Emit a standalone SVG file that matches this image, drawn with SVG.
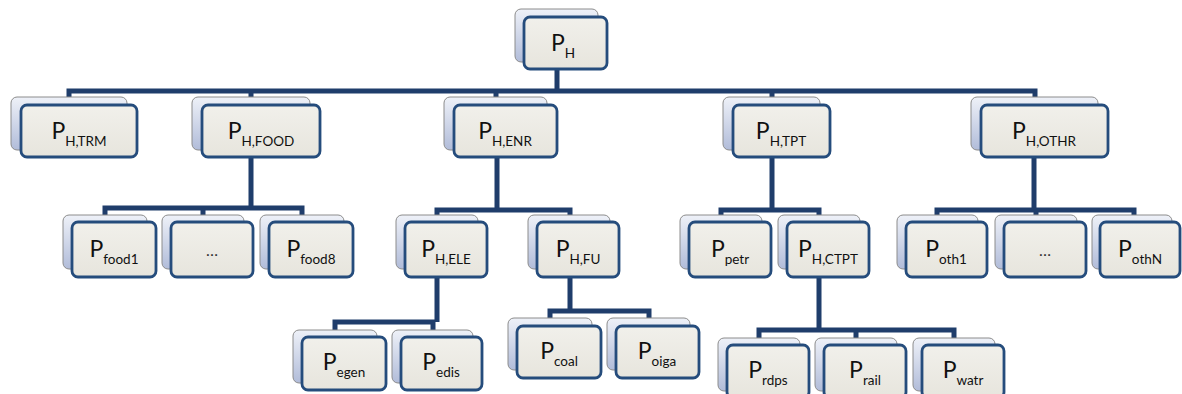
<svg xmlns="http://www.w3.org/2000/svg" width="1182" height="394" viewBox="0 0 1182 394">
  <defs>
    <linearGradient id="backFill" x1="0" y1="0" x2="0" y2="1">
      <stop offset="0" stop-color="#eef1f8"/>
      <stop offset="1" stop-color="#b1bcd9"/>
    </linearGradient>
    <linearGradient id="frontFill" x1="0" y1="0" x2="0" y2="1">
      <stop offset="0" stop-color="#f1f0eb"/>
      <stop offset="1" stop-color="#e7e5dd"/>
    </linearGradient>
  </defs>
  <style>
    .back { fill: url(#backFill); stroke: #8c8c8c; stroke-width: 1; }
    .front { fill: url(#frontFill); stroke: #254c7c; stroke-width: 2.8; }
    .conn { fill: none; stroke: #1f3d6b; stroke-width: 5; stroke-linejoin: miter; stroke-linecap: butt; }
    .t { font-family: Lato, "Liberation Sans", sans-serif; font-size: 23px; fill: #111; text-anchor: middle; }
    .s { font-size: 13.5px; }
    .dots { font-family: Lato, "Liberation Sans", sans-serif; font-size: 16px; fill: #333; text-anchor: middle; }
  </style>

  <!-- connectors -->
  <g id="connectors" class="conn">
    <path d="M557 69 V91 M69 97 V91 H1035 V97 M251 91 V97 M496 91 V97 M772 91 V97"/>
    <path d="M251 157 V208 M105 215 V208 H302 V215 M203 208 V215"/>
    <path d="M497 157 V210 M437 215 V210 H570 V215"/>
    <path d="M772 157 V210 M721 215 V210 H819 V215"/>
    <path d="M1034 157 V210 M937 215 V210 H1134 V215 M1036 210 V215"/>
    <path d="M437 277 V322 M335 330 V322 H433 V330"/>
    <path d="M570 277 V311 M550 318 V311 H649 V318"/>
    <path d="M819 277 V330 M759 338 V330 H954 V338 M856 330 V338"/>
  </g>

  <!-- root -->
  <g id="n-PH">
    <rect class="back" x="515" y="9" width="83" height="53" rx="6"/>
    <rect class="front" x="524" y="17" width="83" height="52" rx="6"/>
    <text class="t" x="563" y="51">P<tspan class="s" dy="7">H</tspan></text>
  </g>

  <!-- level 1 -->
  <g id="n-PH-TRM">
    <rect class="back" x="11" y="97" width="116" height="53" rx="6"/>
    <rect class="front" x="21" y="105" width="116" height="52" rx="6"/>
    <text class="t" x="79" y="139">P<tspan class="s" dy="7">H,TRM</tspan></text>
  </g>
  <g id="n-PH-FOOD">
    <rect class="back" x="192" y="97" width="118" height="53" rx="6"/>
    <rect class="front" x="202" y="105" width="118" height="52" rx="6"/>
    <text class="t" x="261" y="139">P<tspan class="s" dy="7">H,FOOD</tspan></text>
  </g>
  <g id="n-PH-ENR">
    <rect class="back" x="444" y="97" width="103" height="53" rx="6"/>
    <rect class="front" x="454" y="105" width="103" height="52" rx="6"/>
    <text class="t" x="505" y="139">P<tspan class="s" dy="7">H,ENR</tspan></text>
  </g>
  <g id="n-PH-TPT">
    <rect class="back" x="723" y="97" width="97" height="53" rx="6"/>
    <rect class="front" x="733" y="105" width="97" height="52" rx="6"/>
    <text class="t" x="781" y="139">P<tspan class="s" dy="7">H,TPT</tspan></text>
  </g>
  <g id="n-PH-OTHR">
    <rect class="back" x="971" y="97" width="127" height="53" rx="6"/>
    <rect class="front" x="981" y="105" width="127" height="52" rx="6"/>
    <text class="t" x="1044" y="139">P<tspan class="s" dy="7">H,OTHR</tspan></text>
  </g>

  <!-- level 2 -->
  <g id="n-food1">
    <rect class="back" x="63" y="215" width="84" height="54" rx="6"/>
    <rect class="front" x="72" y="222" width="84" height="55" rx="6"/>
    <text class="t" x="114" y="257">P<tspan class="s" dy="7">food1</tspan></text>
  </g>
  <g id="n-food-more">
    <rect class="back" x="162" y="215" width="82" height="54" rx="6"/>
    <rect class="front" x="171" y="222" width="82" height="55" rx="6"/>
    <text class="dots" x="212" y="256">…</text>
  </g>
  <g id="n-food8">
    <rect class="back" x="260" y="215" width="84" height="54" rx="6"/>
    <rect class="front" x="269" y="222" width="84" height="55" rx="6"/>
    <text class="t" x="311" y="257">P<tspan class="s" dy="7">food8</tspan></text>
  </g>
  <g id="n-PH-ELE">
    <rect class="back" x="396" y="215" width="82" height="54" rx="6"/>
    <rect class="front" x="405" y="222" width="82" height="55" rx="6"/>
    <text class="t" x="446" y="257">P<tspan class="s" dy="7">H,ELE</tspan></text>
  </g>
  <g id="n-PH-FU">
    <rect class="back" x="528" y="215" width="82" height="54" rx="6"/>
    <rect class="front" x="537" y="222" width="82" height="55" rx="6"/>
    <text class="t" x="578" y="257">P<tspan class="s" dy="7">H,FU</tspan></text>
  </g>
  <g id="n-petr">
    <rect class="back" x="680" y="215" width="82" height="54" rx="6"/>
    <rect class="front" x="689" y="222" width="82" height="55" rx="6"/>
    <text class="t" x="730" y="257">P<tspan class="s" dy="7">petr</tspan></text>
  </g>
  <g id="n-PH-CTPT">
    <rect class="back" x="778" y="215" width="82" height="54" rx="6"/>
    <rect class="front" x="787" y="222" width="82" height="55" rx="6"/>
    <text class="t" x="828" y="257">P<tspan class="s" dy="7">H,CTPT</tspan></text>
  </g>
  <g id="n-oth1">
    <rect class="back" x="897" y="215" width="81" height="54" rx="6"/>
    <rect class="front" x="906" y="222" width="81" height="55" rx="6"/>
    <text class="t" x="946" y="257">P<tspan class="s" dy="7">oth1</tspan></text>
  </g>
  <g id="n-oth-more">
    <rect class="back" x="995" y="215" width="82" height="54" rx="6"/>
    <rect class="front" x="1004" y="222" width="82" height="55" rx="6"/>
    <text class="dots" x="1045" y="256">…</text>
  </g>
  <g id="n-othN">
    <rect class="back" x="1092" y="215" width="80" height="54" rx="6"/>
    <rect class="front" x="1100" y="222" width="80" height="55" rx="6"/>
    <text class="t" x="1140" y="257">P<tspan class="s" dy="7">othN</tspan></text>
  </g>

  <!-- level 3 -->
  <g id="n-egen">
    <rect class="back" x="293" y="330" width="84" height="53" rx="6"/>
    <rect class="front" x="302" y="337" width="84" height="53" rx="6"/>
    <text class="t" x="344" y="370">P<tspan class="s" dy="7">egen</tspan></text>
  </g>
  <g id="n-edis">
    <rect class="back" x="392" y="330" width="81" height="53" rx="6"/>
    <rect class="front" x="401" y="337" width="81" height="53" rx="6"/>
    <text class="t" x="441" y="370">P<tspan class="s" dy="7">edis</tspan></text>
  </g>
  <g id="n-coal">
    <rect class="back" x="508" y="318" width="84" height="52" rx="6"/>
    <rect class="front" x="517" y="326" width="84" height="52" rx="6"/>
    <text class="t" x="559" y="359">P<tspan class="s" dy="7">coal</tspan></text>
  </g>
  <g id="n-oiga">
    <rect class="back" x="607" y="318" width="83" height="52" rx="6"/>
    <rect class="front" x="616" y="326" width="83" height="52" rx="6"/>
    <text class="t" x="657" y="359">P<tspan class="s" dy="7">oiga</tspan></text>
  </g>
  <g id="n-rdps">
    <rect class="back" x="718" y="338" width="82" height="53" rx="6"/>
    <rect class="front" x="727" y="345" width="82" height="53" rx="6"/>
    <text class="t" x="768" y="378">P<tspan class="s" dy="7">rdps</tspan></text>
  </g>
  <g id="n-rail">
    <rect class="back" x="815" y="338" width="82" height="53" rx="6"/>
    <rect class="front" x="824" y="345" width="82" height="53" rx="6"/>
    <text class="t" x="865" y="378">P<tspan class="s" dy="7">rail</tspan></text>
  </g>
  <g id="n-watr">
    <rect class="back" x="913" y="338" width="82" height="53" rx="6"/>
    <rect class="front" x="922" y="345" width="82" height="53" rx="6"/>
    <text class="t" x="963" y="378">P<tspan class="s" dy="7">watr</tspan></text>
  </g>
</svg>
